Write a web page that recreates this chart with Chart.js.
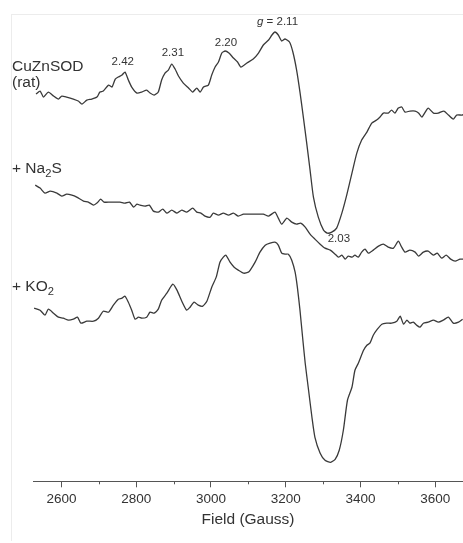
<!DOCTYPE html>
<html>
<head>
<meta charset="utf-8">
<script src="https://cdn.jsdelivr.net/npm/chart.js@4.4.1/dist/chart.umd.min.js"></script>
<style>
  html, body { margin: 0; padding: 0; background: #fff; }
  #wrap { position: relative; width: 463px; height: 543px; overflow: hidden; }
  #frame { position: absolute; left: 11px; top: 14px; width: 460px; height: 526px;
           border-left: 1px solid #ececec; border-top: 1px solid #ececec; }
  canvas { position: absolute; left: 0; top: 0; }
</style>
</head>
<body>
<div id="wrap">
  <div id="frame"></div>
  <canvas id="epr" width="463" height="543"></canvas>
</div>
<script>
// EPR spectra, field in Gauss, signal in arbitrary units (traces stacked with offsets)
const fieldSod = [2532, 2543, 2552, 2565, 2579, 2592, 2601, 2614, 2632, 2645, 2655, 2668, 2681, 2695, 2703, 2712,
  2726, 2735, 2744, 2752, 2762, 2770, 2779, 2788, 2802, 2815, 2828, 2837, 2848, 2859, 2868, 2877, 2886, 2895,
  2904, 2913, 2926, 2940, 2951, 2962, 2971, 2980, 2993, 3002, 3011, 3020, 3029, 3038, 3048, 3060, 3071, 3080,
  3096, 3113, 3127, 3140, 3154, 3163, 3171, 3180, 3189, 3198, 3210, 3219, 3229, 3238, 3247, 3256, 3265, 3274,
  3287, 3301, 3311, 3323, 3336, 3350, 3363, 3377, 3390, 3403, 3417, 3430, 3443, 3452, 3461, 3474, 3483, 3492,
  3501, 3510, 3519, 3532, 3546, 3555, 3564, 3573, 3581, 3595, 3608, 3623, 3635, 3648, 3657, 3671, 3680];
const sigSod = [387, 390, 384, 389, 385, 382, 385, 384, 382, 380, 377, 381, 382, 384, 389, 390,
  396, 394, 402, 404, 406, 409, 401, 394, 388, 389, 391, 388, 386, 389, 401, 408, 411, 417,
  412, 405, 398, 393, 389, 393, 389, 394, 396, 406, 414, 419, 428, 430, 428, 423, 419, 414,
  418, 422, 428, 436, 441, 446, 449, 446, 440, 442, 439, 429, 411, 389, 364, 338, 311, 284,
  264, 251, 248, 249, 253, 268, 286, 308, 328, 341, 349, 358, 361, 364, 368, 368, 371, 368,
  373, 374, 369, 370, 370, 368, 364, 369, 373, 368, 368, 370, 366, 362, 366, 366, 367];

const fieldNa2s = [2530, 2543, 2556, 2570, 2588, 2601, 2614, 2628, 2641, 2659, 2672, 2686, 2695, 2705, 2714, 2730,
  2744, 2757, 2770, 2782, 2793, 2802, 2810, 2824, 2835, 2846, 2859, 2871, 2882, 2895, 2909, 2922, 2935, 2951,
  2962, 2973, 2984, 2998, 3006, 3020, 3033, 3047, 3060, 3073, 3087, 3105, 3123, 3140, 3154, 3171, 3180, 3189,
  3203, 3216, 3229, 3240, 3252, 3265, 3278, 3292, 3305, 3319, 3332, 3341, 3350, 3359, 3367, 3377, 3385, 3394,
  3403, 3412, 3421, 3434, 3448, 3461, 3474, 3488, 3501, 3510, 3519, 3532, 3546, 3555, 3568, 3581, 3595, 3605,
  3617, 3629, 3641, 3653, 3666, 3674];
const sigNa2s = [296, 293, 288, 290, 288, 285, 287, 286, 284, 280, 279, 276, 278, 282, 279, 279,
  279, 279, 278, 279, 274, 277, 276, 275, 276, 270, 269, 272, 268, 271, 268, 271, 269, 273,
  269, 268, 265, 264, 268, 266, 268, 266, 268, 265, 267, 267, 267, 267, 265, 269, 263, 257,
  263, 259, 257, 258, 254, 247, 242, 237, 233, 231, 227, 224, 226, 222, 225, 224, 226, 224,
  229, 232, 228, 231, 235, 237, 234, 233, 240, 234, 229, 231, 229, 225, 229, 230, 226, 228,
  223, 226, 222, 220, 222, 222];

const fieldKo2 = [2527, 2543, 2556, 2565, 2579, 2592, 2605, 2619, 2632, 2643, 2652, 2668, 2686, 2699, 2712, 2726,
  2739, 2752, 2762, 2770, 2779, 2788, 2797, 2806, 2815, 2828, 2837, 2848, 2859, 2868, 2882, 2898, 2909, 2922,
  2935, 2944, 2955, 2966, 2978, 2989, 3002, 3014, 3024, 3033, 3040, 3051, 3062, 3073, 3087, 3100, 3105, 3118,
  3131, 3145, 3158, 3171, 3180, 3189, 3198, 3207, 3216, 3225, 3231, 3238, 3245, 3252, 3261, 3270, 3278, 3292,
  3305, 3320, 3332, 3343, 3354, 3365, 3377, 3385, 3394, 3408, 3417, 3425, 3434, 3445, 3457, 3470, 3483, 3497,
  3506, 3515, 3524, 3532, 3541, 3550, 3559, 3568, 3581, 3595, 3608, 3621, 3635, 3648, 3662, 3673];
const sigKo2 = [173, 171, 166, 172, 168, 164, 163, 161, 162, 164, 158, 160, 160, 163, 170, 169,
  176, 182, 183, 185, 179, 171, 162, 164, 163, 164, 169, 168, 172, 181, 188, 197, 191, 180,
  171, 174, 179, 176, 175, 180, 194, 204, 219, 224, 226, 219, 214, 211, 208, 209, 211, 219,
  229, 236, 238, 239, 236, 228, 227, 227, 221, 209, 194, 171, 144, 118, 91, 64, 44, 28,
  21, 19, 22, 31, 51, 81, 94, 111, 118, 131, 136, 138, 146, 152, 157, 158, 158, 160,
  165, 157, 161, 158, 159, 156, 154, 158, 159, 161, 159, 161, 164, 158, 159, 162];

// g-value labels: text, field, signal level of the label centre
const peakText = ['2.42', '2.31', '2.20', 'g = 2.11', '2.03'];
const peakField = [2764, 2898, 3040, 3178, 3342];
const peakLevel = [419, 428, 438, 459, 242];

// trace names on the left, with signal level of each line
const traceNames = [
  [['CuZnSOD']],
  [['(rat)']],
  [['+ Na'], ['2', 'sub'], ['S']],
  [['+ KO'], ['2', 'sub']]
];
const traceLevel = [414, 398, 312, 194];

const FONT = '"Liberation Sans", Arial, sans-serif';
const INK = '#333';

function toPoints(xs, ys) {
  return xs.map((x, i) => ({ x: x, y: ys[i] }));
}

// short ticks every 100 G between the labelled ones
const minorTicks = {
  id: 'minorTicks',
  afterDraw(chart) {
    const sx = chart.scales.x;
    const ctx = chart.ctx;
    const y0 = chart.chartArea.bottom;
    ctx.save();
    ctx.strokeStyle = '#555';
    ctx.lineWidth = 1;
    for (let v = Math.ceil(sx.min / 100) * 100; v <= sx.max; v += 100) {
      if (v % 200 === 0) continue;
      const px = Math.round(sx.getPixelForValue(v)) + 0.5;
      ctx.beginPath();
      ctx.moveTo(px, y0);
      ctx.lineTo(px, y0 + 3);
      ctx.stroke();
    }
    ctx.restore();
  }
};

function drawParts(ctx, x, y, parts, size) {
  let cx = x;
  parts.forEach(p => {
    const sub = p[1] === 'sub';
    const ital = p[1] === 'ital';
    const fs = sub ? size * 0.72 : size;
    ctx.font = (ital ? 'italic ' : '') + fs + 'px ' + FONT;
    ctx.fillText(p[0], cx, sub ? y + size * 0.32 : y);
    cx += ctx.measureText(p[0]).width;
  });
}

function partsWidth(ctx, parts, size) {
  let w = 0;
  parts.forEach(p => {
    const fs = p[1] === 'sub' ? size * 0.72 : size;
    ctx.font = (p[1] === 'ital' ? 'italic ' : '') + fs + 'px ' + FONT;
    w += ctx.measureText(p[0]).width;
  });
  return w;
}

const textLabels = {
  id: 'textLabels',
  afterDraw(chart) {
    const ctx = chart.ctx;
    const sx = chart.scales.x, sy = chart.scales.y;
    ctx.save();
    ctx.fillStyle = INK;
    ctx.textBaseline = 'middle';
    ctx.textAlign = 'left';

    peakText.forEach((t, i) => {
      const parts = t.startsWith('g ') ? [['g', 'ital'], [t.slice(1)]] : [[t]];
      const w = partsWidth(ctx, parts, 11.5);
      drawParts(ctx, sx.getPixelForValue(peakField[i]) - w / 2, sy.getPixelForValue(peakLevel[i]), parts, 11.5);
    });

    traceNames.forEach((parts, i) => {
      drawParts(ctx, 12, sy.getPixelForValue(traceLevel[i]), parts, 15.5);
    });
    ctx.restore();
  }
};

const lineStyle = {
  borderColor: '#3a3a3a',
  borderWidth: 1.3,
  pointRadius: 0,
  tension: 0.2,
  fill: false
};

new Chart(document.getElementById('epr'), {
  type: 'line',
  data: {
    datasets: [
      Object.assign({ label: 'CuZnSOD (rat)', data: toPoints(fieldSod, sigSod) }, lineStyle),
      Object.assign({ label: '+ Na2S', data: toPoints(fieldNa2s, sigNa2s) }, lineStyle),
      Object.assign({ label: '+ KO2', data: toPoints(fieldKo2, sigKo2) }, lineStyle)
    ]
  },
  options: {
    responsive: false,
    animation: false,
    layout: { padding: { left: 33, right: 0, top: 14, bottom: 16 } },
    plugins: { legend: { display: false }, tooltip: { enabled: false } },
    scales: {
      x: {
        type: 'linear',
        min: 2524,
        max: 3674,
        border: { display: true, color: '#555', width: 1 },
        grid: { display: true, drawOnChartArea: false, drawTicks: true, tickLength: 6, color: '#555' },
        ticks: {
          stepSize: 200,
          includeBounds: false,
          color: INK,
          padding: 4,
          font: { family: FONT, size: 13.5 },
          maxRotation: 0,
          callback: v => String(v)
        },
        title: {
          display: true,
          text: 'Field (Gauss)',
          color: INK,
          padding: { top: 0, bottom: 0 },
          font: { family: FONT, size: 15.5, lineHeight: 1.0 }
        }
      },
      y: {
        display: false,
        min: 0,
        max: 467
      }
    }
  },
  plugins: [minorTicks, textLabels]
});
</script>
</body>
</html>
